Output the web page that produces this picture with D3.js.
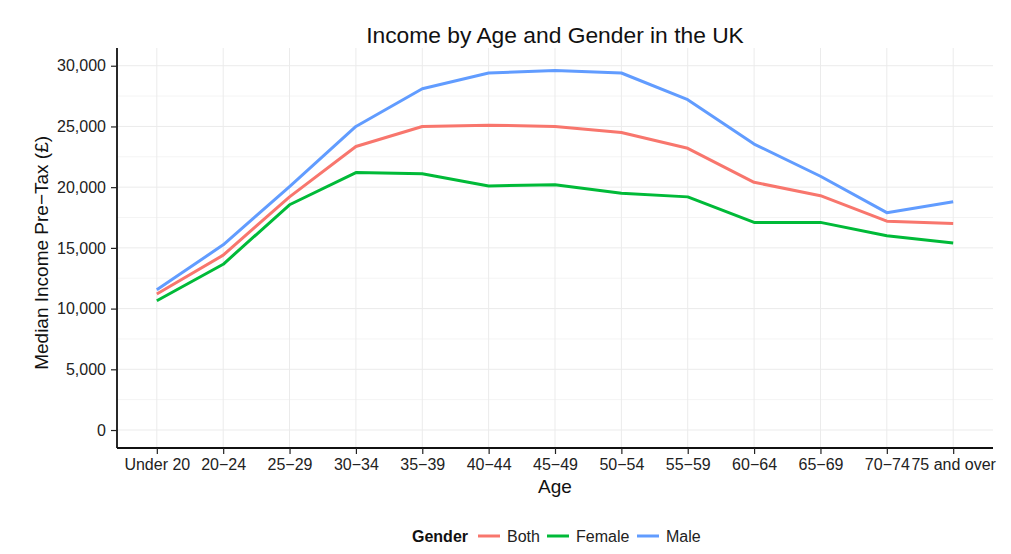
<!DOCTYPE html>
<html>
<head>
<meta charset="utf-8">
<script src="https://cdn.jsdelivr.net/npm/d3@7"></script>
<style>
  body { margin: 0; background: #fff; }
  text { font-family: "Liberation Sans", Arial, sans-serif; }
</style>
</head>
<body>
<div id="chart"></div>
<script>
var ages = ["Under 20", "20−24", "25−29", "30−34", "35−39", "40−44", "45−49", "50−54", "55−59", "60−64", "65−69", "70−74", "75 and over"];
var both = [11200, 14400, 19200, 23350, 25000, 25100, 25000, 24500, 23200, 20400, 19300, 17200, 17000];
var female = [10650, 13650, 18550, 21200, 21100, 20100, 20200, 19500, 19200, 17100, 17100, 16000, 15400];
var male = [11550, 15250, 20050, 25000, 28100, 29400, 29600, 29400, 27200, 23550, 20900, 17900, 18800];
var genders = ["Both", "Female", "Male"];
var colours = ["#F8766D", "#00BA38", "#619CFF"];
var yTicks = [0, 5000, 10000, 15000, 20000, 25000, 30000];
var yMinor = [2500, 7500, 12500, 17500, 22500, 27500];

var series = [both, female, male];

var svg = d3.select("#chart").append("svg").attr("width", 1011).attr("height", 554);
var margin = {top: 48, right: 18, bottom: 106, left: 117};
var width = 1011 - margin.left - margin.right;
var height = 554 - margin.top - margin.bottom;

var x = d3.scalePoint().domain(ages).range([0, width]).padding(0.6);
var y = d3.scaleLinear().domain([-1480, 31460]).range([height, 0]);

var g = svg.append("g").attr("transform", `translate(${margin.left},${margin.top})`);

// grid
g.selectAll(".minor").data(yMinor).enter().append("line").attr("x1", 0).attr("x2", width)
    .attr("y1", d => y(d)).attr("y2", d => y(d)).attr("stroke", "#f4f4f4").attr("stroke-width", 1);
g.selectAll(".hgrid").data(yTicks).enter().append("line").attr("x1", 0).attr("x2", width)
    .attr("y1", d => y(d)).attr("y2", d => y(d)).attr("stroke", "#ebebeb").attr("stroke-width", 1);
g.selectAll(".vgrid").data(ages).enter().append("line").attr("y1", 0).attr("y2", height)
    .attr("x1", d => x(d)).attr("x2", d => x(d)).attr("stroke", "#ebebeb").attr("stroke-width", 1);

// lines
var line = d3.line().x((d, i) => x(ages[i])).y(d => y(d));
g.selectAll(".series").data(series).enter().append("path")
    .attr("d", d => line(d)).attr("fill", "none")
    .attr("stroke", (d, i) => colours[i]).attr("stroke-width", 3).attr("stroke-linejoin", "round");

// axes
var xAxis = g.append("g").attr("transform", `translate(0,${height})`)
    .call(d3.axisBottom(x).tickSize(6).tickPadding(5));
var yAxis = g.append("g")
    .call(d3.axisLeft(y).tickValues(yTicks).tickFormat(d3.format(",")).tickSize(6).tickPadding(5));
[xAxis, yAxis].forEach(a => {
    a.select(".domain").attr("stroke", "#111").attr("stroke-width", 1.8);
    a.selectAll(".tick line").attr("stroke", "#222").attr("stroke-width", 1.2);
    a.selectAll(".tick text").attr("fill", "#222").style("font-size", "16px").style("font-family", "Liberation Sans, Arial, sans-serif");
});
xAxis.select(".domain").attr("d", `M0,0H${width}`);
yAxis.select(".domain").attr("d", `M0,${height}V0`);

// titles
svg.append("text").attr("x", margin.left + width / 2).attr("y", 43).attr("text-anchor", "middle")
    .style("font-size", "22.8px").attr("fill", "#111").text("Income by Age and Gender in the UK");
svg.append("text").attr("x", margin.left + width / 2).attr("y", 493).attr("text-anchor", "middle")
    .style("font-size", "19px").attr("fill", "#111").text("Age");
svg.append("text").attr("transform", `translate(48,${margin.top + y(15000) + 5}) rotate(-90)`).attr("text-anchor", "middle")
    .style("font-size", "19px").attr("fill", "#111").text("Median Income Pre−Tax (£)");

// legend
var leg = svg.append("g").attr("transform", "translate(412,542)");
leg.append("text").attr("x", 0).attr("y", 0).style("font-size", "16px").style("font-weight", "bold").attr("fill", "#111").text("Gender");
var legX = [66, 135, 225];
genders.forEach((gname, i) => {
    leg.append("line").attr("x1", legX[i]).attr("x2", legX[i] + 22).attr("y1", -6).attr("y2", -6)
        .attr("stroke", colours[i]).attr("stroke-width", 3);
    leg.append("text").attr("x", legX[i] + 29).attr("y", 0).style("font-size", "16px").attr("fill", "#222").text(gname);
});
</script>
</body>
</html>
